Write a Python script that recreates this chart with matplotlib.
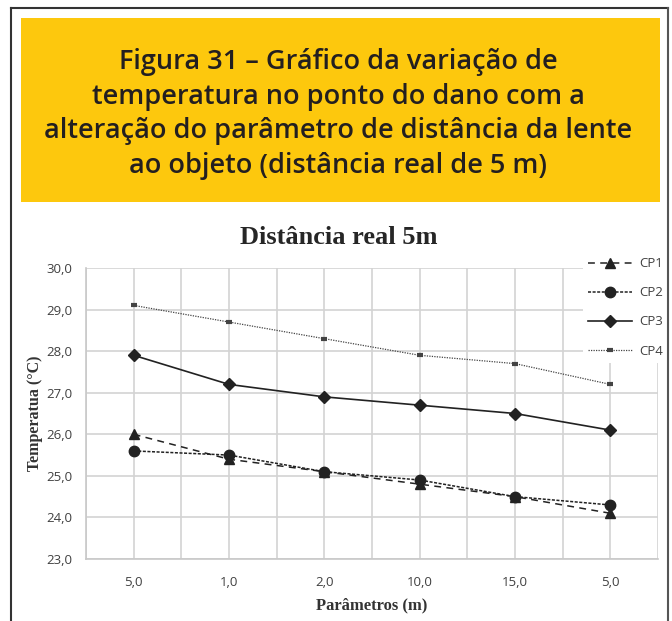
import matplotlib
matplotlib.use("Agg")
import matplotlib.pyplot as plt
from matplotlib.patches import Rectangle
from matplotlib.lines import Line2D

categories = ["5,0", "1,0", "2,0", "10,0", "15,0", "5,0"]
cp1 = [26.0, 25.4, 25.1, 24.8, 24.5, 24.1]
cp2 = [25.6, 25.5, 25.1, 24.9, 24.5, 24.3]
cp3 = [27.9, 27.2, 26.9, 26.7, 26.5, 26.1]
cp4 = [29.1, 28.7, 28.3, 27.9, 27.7, 27.2]
series_names = ["CP1", "CP2", "CP3", "CP4"]
yticks = [23, 24, 25, 26, 27, 28, 29, 30]

W, H = 672, 621
fig = plt.figure(figsize=(W / 100, H / 100), dpi=100)
fig.patch.set_facecolor("white")

def fx(px):
    return px / W

def fy(py):
    return 1 - py / H

# page frame
fig.add_artist(Line2D([fx(11), fx(11)], [0, fy(8)], color="#333333", lw=1.5))
fig.add_artist(Line2D([fx(11), fx(668)], [fy(8), fy(8)], color="#333333", lw=1.5))
fig.add_artist(Line2D([fx(668), fx(668)], [0, fy(8)], color="#555555", lw=1.5))

# yellow header box
fig.add_artist(Rectangle((fx(21), fy(202)), fx(660) - fx(21), fy(18) - fy(202),
                         facecolor="#FDC80D", edgecolor="none"))
header = ("Figura 31 – Gráfico da variação de\n"
          "temperatura no ponto do dano com a\n"
          "alteração do parâmetro de distância da lente\n"
          "ao objeto (distância real de 5 m)")
fig.text(fx(338), fy(114), header, ha="center", va="center", fontsize=19.5,
         family="Open Sans", weight="semibold", color="#231F20", linespacing=1.33)

ax = fig.add_axes([fx(86), fy(559), fx(658) - fx(86), fy(268) - fy(559)])
x = list(range(len(categories)))

ax.plot(x, cp1, color="#222222", lw=1.1, ls=(0, (4.5, 3.5)), marker="^", ms=7.5,
        label=series_names[0], zorder=3)
ax.plot(x, cp2, color="#222222", lw=1.1, ls=(0, (2, 1)), marker="o", ms=7.5,
        label=series_names[1], zorder=3)
ax.plot(x, cp3, color="#222222", lw=1.2, ls="-", marker="D", ms=6,
        label=series_names[2], zorder=3)
ax.plot(x, cp4, color="#444444", lw=0.9, ls=(0, (1, 1)), marker="_", ms=5, mew=3,
        label=series_names[3], zorder=3)

ax.set_xlim(-0.5, len(categories) - 0.5)
ax.set_ylim(23, 30)
ax.set_yticks(yticks)
ax.set_yticklabels([f"{v:.1f}".replace(".", ",") for v in yticks])
ax.set_xticks(x)
ax.set_xticklabels(categories)
ax.set_xticks([i - 0.5 for i in range(len(categories) + 1)], minor=True)
ax.grid(True, which="both", color="#D3D3D3", lw=1.2, zorder=0)
ax.set_axisbelow(True)
ax.tick_params(which="both", length=0)
ax.tick_params(axis="y", pad=10, labelsize=9.5, labelcolor="#404040")
ax.tick_params(axis="x", pad=12, labelsize=9.5, labelcolor="#404040")
for lab in ax.get_xticklabels() + ax.get_yticklabels():
    lab.set_family("Open Sans")
for s in ["top", "right"]:
    ax.spines[s].set_visible(False)
for s in ["left", "bottom"]:
    ax.spines[s].set_color("#C8C8C8")
    ax.spines[s].set_linewidth(1.2)

fig.text(fx(339), fy(238), "Distância real 5m", ha="center", va="center",
         fontsize=19, family="Liberation Serif", weight="bold", color="#262626")
ax.set_xlabel("Parâmetros (m)", family="Liberation Serif", fontsize=12,
              weight="bold", color="#333333", labelpad=6)
ax.set_ylabel("Temperatua (°C)", family="Liberation Serif", fontsize=11.5,
              weight="bold", color="#333333", labelpad=2)

leg = ax.legend(loc="upper left", bbox_to_anchor=(fx(583), fy(252)),
                bbox_transform=fig.transFigure, frameon=True, fancybox=False,
                framealpha=1, edgecolor="none", facecolor="white",
                prop={"family": "Open Sans", "size": 9.5}, labelcolor="#404040",
                handlelength=3.3, labelspacing=1.22, borderpad=0.4,
                handletextpad=0.6, borderaxespad=0)
leg.set_zorder(5)

fig.savefig("out.png", dpi=100)
